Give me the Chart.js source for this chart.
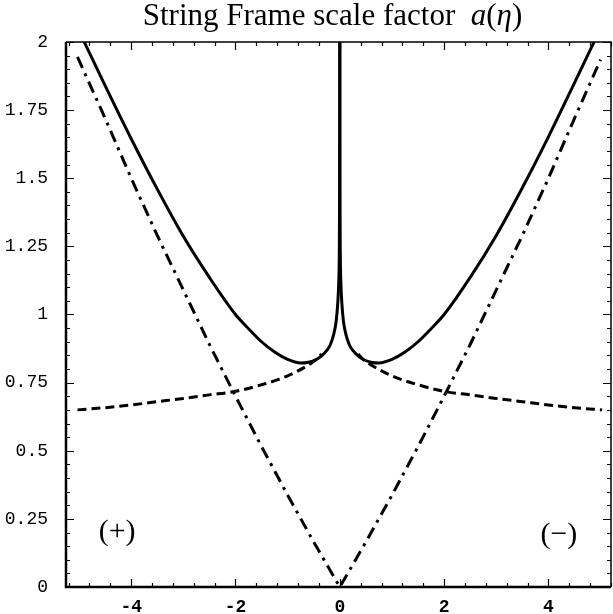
<!DOCTYPE html>
<html>
<head>
<meta charset="utf-8">
<script src="https://cdn.jsdelivr.net/npm/chart.js@4.4.1/dist/chart.umd.min.js"></script>
<style>
  html, body { margin: 0; padding: 0; background: #fff; }
  #wrap { position: relative; width: 613px; height: 614px; }
  #title {
    position: absolute; left: 60px; width: 545px; top: -3px;
    text-align: center; font-family: "Liberation Serif", "DejaVu Serif", serif;
    font-size: 31px; color: #000; white-space: pre;
  }
  canvas { position: absolute; left: 0; top: 0; }
</style>
</head>
<body>
<div id="wrap">
  <canvas id="chart" width="613" height="614"></canvas>
  <div id="title">String Frame scale factor  <i>a</i>(<i>η</i>)</div>
</div>
<script>
// full string-frame scale factor (solid), split at the cusp eta = 0
const etaSolidLeft = [-4.95, -4.5, -4, -3.5, -3, -2.5, -2, -1.75, -1.5, -1.25, -1, -0.75, -0.6, -0.45, -0.35, -0.25, -0.18, -0.12, -0.07, -0.04, -0.02, -0.01, -0.004, 0];
const solidLeft = [2.02, 1.84, 1.645, 1.46, 1.287, 1.136, 1.0, 0.948, 0.9, 0.862, 0.835, 0.822, 0.825, 0.835, 0.848, 0.868, 0.89, 0.925, 0.975, 1.04, 1.12, 1.22, 1.45, 2.05];
const etaSolidRight = [0, 0.004, 0.01, 0.02, 0.04, 0.07, 0.12, 0.18, 0.25, 0.35, 0.45, 0.6, 0.75, 1, 1.25, 1.5, 1.75, 2, 2.5, 3, 3.5, 4, 4.5, 4.95];
const solidRight = [2.05, 1.45, 1.22, 1.12, 1.04, 0.975, 0.925, 0.89, 0.868, 0.848, 0.835, 0.825, 0.822, 0.835, 0.862, 0.9, 0.948, 1.0, 1.136, 1.29, 1.465, 1.652, 1.85, 2.03];

// dashed approximation
const etaDashLeft = [-5.03, -4.5, -4, -3.5, -3, -2.5, -2, -1.5, -1.2, -1, -0.8, -0.6, -0.45, -0.35];
const dashLeft = [0.65, 0.658, 0.668, 0.68, 0.692, 0.705, 0.718, 0.742, 0.76, 0.775, 0.793, 0.815, 0.835, 0.855];
const etaDashRight = [0.35, 0.45, 0.6, 0.8, 1, 1.2, 1.5, 2, 2.5, 3, 3.5, 4, 4.5, 5.03];
const dashRight = [0.855, 0.835, 0.815, 0.793, 0.775, 0.76, 0.742, 0.718, 0.705, 0.692, 0.68, 0.668, 0.658, 0.65];

// dash-dot approximation (V through the origin)
const etaDashDot = [-5.03, -4.5, -4, -3.5, -3, -2.5, -2, -1.5, -1, -0.5, 0, 0.5, 1, 1.5, 2, 2.5, 3, 3.5, 4, 4.5, 5.0];
const dashDot = [1.945, 1.72, 1.50, 1.29, 1.09, 0.89, 0.70, 0.515, 0.337, 0.165, 0, 0.165, 0.337, 0.515, 0.70, 0.89, 1.09, 1.29, 1.50, 1.72, 1.935];

const xTicks = [-4, -2, 0, 2, 4];
const yTicks = [0, 0.25, 0.5, 0.75, 1, 1.25, 1.5, 1.75, 2];
const xMinorStep = 0.4;
const yMinorStep = 0.05;

const regionLabels = [
  { text: '(+)', x: -4.27, y: 0.2 },
  { text: '(\u2212)', x: 4.2, y: 0.19 }
];

function pts(xs, ys) {
  return xs.map((x, i) => ({ x: x, y: ys[i] }));
}

const frameTicks = {
  id: 'frameTicks',
  afterDraw(chart) {
    const { ctx, chartArea: a, scales: { x, y } } = chart;
    ctx.save();
    ctx.strokeStyle = '#000';
    // frame
    ctx.lineWidth = 1.5;
    ctx.beginPath();
    ctx.moveTo(a.left, a.top); ctx.lineTo(a.right, a.top);
    ctx.lineTo(a.right, a.bottom);
    ctx.stroke();
    ctx.lineWidth = 2.5;
    ctx.beginPath();
    ctx.moveTo(a.left, a.top); ctx.lineTo(a.left, a.bottom); ctx.lineTo(a.right, a.bottom);
    ctx.stroke();
    // inward ticks on all four sides
    ctx.lineWidth = 1.2;
    ctx.beginPath();
    for (let v = -5.2; v <= 5.2 + 1e-6; v += xMinorStep) {
      const major = xTicks.some(t => Math.abs(t - v) < 1e-6);
      const len = major ? 8 : 4;
      const px = Math.round(x.getPixelForValue(v)) + 0.5;
      ctx.moveTo(px, a.bottom); ctx.lineTo(px, a.bottom - len);
      ctx.moveTo(px, a.top); ctx.lineTo(px, a.top + len);
    }
    for (let v = 0; v <= 2 + 1e-6; v += yMinorStep) {
      const major = yTicks.some(t => Math.abs(t - v) < 1e-6);
      const len = major ? 8 : 4;
      const py = Math.round(y.getPixelForValue(v)) + 0.5;
      ctx.moveTo(a.left, py); ctx.lineTo(a.left + len, py);
      ctx.moveTo(a.right, py); ctx.lineTo(a.right - len, py);
    }
    ctx.stroke();
    // region labels
    ctx.fillStyle = '#000';
    ctx.font = '30px "Liberation Serif", serif';
    ctx.textAlign = 'center';
    ctx.textBaseline = 'middle';
    regionLabels.forEach(l => {
      ctx.fillText(l.text, x.getPixelForValue(l.x), y.getPixelForValue(l.y));
    });
    ctx.restore();
  }
};

const lineBase = {
  borderColor: '#000',
  borderWidth: 3,
  pointRadius: 0,
  fill: false,
  borderCapStyle: 'butt'
};

new Chart(document.getElementById('chart').getContext('2d'), {
  type: 'line',
  data: {
    datasets: [
      Object.assign({ label: 'a left', data: pts(etaSolidLeft, solidLeft), cubicInterpolationMode: 'monotone' }, lineBase),
      Object.assign({ label: 'a right', data: pts(etaSolidRight, solidRight), cubicInterpolationMode: 'monotone' }, lineBase),
      Object.assign({ label: 'dashed left', data: pts(etaDashLeft, dashLeft), cubicInterpolationMode: 'monotone', borderDash: [9, 5] }, lineBase),
      Object.assign({ label: 'dashed right', data: pts(etaDashRight, dashRight), cubicInterpolationMode: 'monotone', borderDash: [9, 5] }, lineBase),
      Object.assign({ label: 'dash-dot', data: pts(etaDashDot, dashDot), tension: 0, borderDash: [12, 6, 3, 6] }, lineBase)
    ]
  },
  options: {
    responsive: false,
    animation: false,
    layout: { padding: { left: 0, top: 42, right: 2, bottom: 0 } },
    plugins: { legend: { display: false }, title: { display: false }, tooltip: { enabled: false } },
    scales: {
      x: {
        type: 'linear',
        min: -5.25,
        max: 5.2,
        grid: { display: false },
        border: { display: false },
        afterBuildTicks: s => { s.ticks = xTicks.map(v => ({ value: v })); },
        afterFit: s => { s.height = 27; },
        ticks: {
          color: '#000',
          padding: 2,
          maxRotation: 0,
          font: { family: '"Liberation Mono", monospace', size: 18, weight: 'bold' },
          callback: v => String(v)
        }
      },
      y: {
        type: 'linear',
        min: 0,
        max: 2,
        grid: { display: false },
        border: { display: false },
        afterBuildTicks: s => { s.ticks = yTicks.map(v => ({ value: v })); },
        afterFit: s => { s.width = 66; },
        ticks: {
          color: '#000',
          padding: 10,
          font: { family: '"Liberation Mono", monospace', size: 18 },
          callback: v => String(v)
        }
      }
    }
  },
  plugins: [frameTicks]
});
</script>
</body>
</html>
